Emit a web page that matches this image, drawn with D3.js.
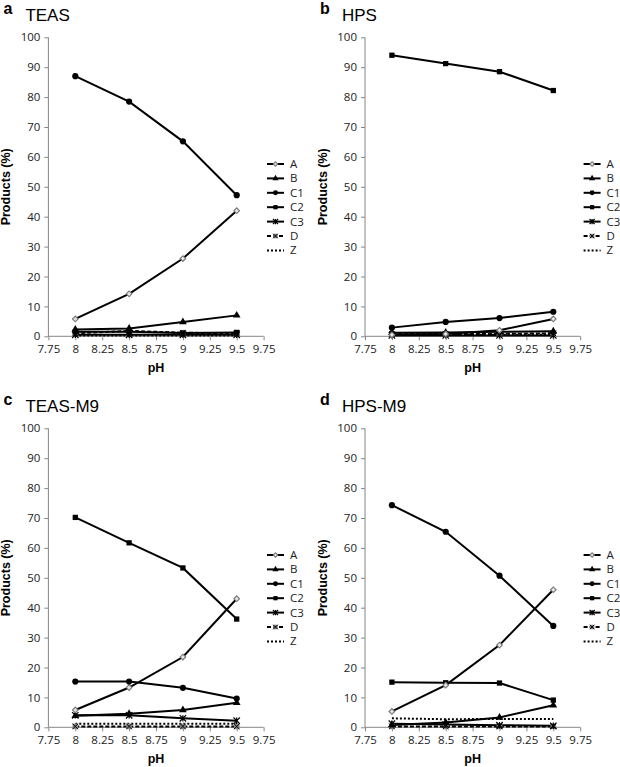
<!DOCTYPE html>
<html><head><meta charset="utf-8">
<script src="https://cdn.jsdelivr.net/npm/d3@7"></script>
<style>body{margin:0;background:#fff}svg{display:block}</style>
</head><body>
<svg id="c" width="620" height="767"></svg>
<script>
// ---- data ----
const pH = [8, 8.5, 9, 9.5];
const xTicks = [7.75, 8, 8.25, 8.5, 8.75, 9, 9.25, 9.5, 9.75];
const yTicks = [0, 10, 20, 30, 40, 50, 60, 70, 80, 90, 100];
const seriesNames = ["A", "B", "C1", "C2", "C3", "D", "Z"];
const panelLetters = ["a", "b", "c", "d"];
const panelTitles = ["TEAS", "HPS", "TEAS-M9", "HPS-M9"];
// values per series (order: A, B, C1, C2, C3, D, Z) at pH 8, 8.5, 9, 9.5
const teasValues = [
  [5.8, 14.2, 26.0, 42.0],
  [2.3, 2.6, 4.8, 7.0],
  [87.0, 78.5, 65.2, 47.2],
  [1.5, 1.5, 1.1, 1.3],
  [0.5, 0.5, 0.5, 0.5],
  [1.0, 1.8, 1.2, 1.0],
  [0.3, 0.3, 0.3, 0.3]
];
const hpsValues = [
  [0.5, 0.8, 2.0, 5.8],
  [1.2, 1.3, 1.5, 1.7],
  [2.9, 4.8, 6.1, 8.2],
  [94.0, 91.2, 88.5, 82.2],
  [0.3, 0.3, 0.3, 0.3],
  [0.8, 0.8, 0.8, 1.0],
  [0.5, 0.5, 0.5, 0.5]
];
const teasM9Values = [
  [5.8, 13.3, 23.5, 43.0],
  [3.9, 4.5, 5.8, 8.2],
  [15.3, 15.3, 13.2, 9.6],
  [70.2, 61.7, 53.3, 36.2],
  [4.0, 4.0, 3.0, 2.2],
  [0.3, 0.3, 0.3, 0.3],
  [1.2, 1.2, 1.2, 1.2]
];
const hpsM9Values = [
  [5.3, 14.1, 27.5, 46.0],
  [0.8, 1.6, 3.3, 7.4],
  [74.3, 65.4, 50.7, 33.9],
  [15.1, 14.9, 14.8, 9.1],
  [1.2, 0.9, 0.7, 0.5],
  [0.3, 0.3, 0.3, 0.3],
  [3.0, 2.7, 2.8, 2.8]
];
const panelValues = [teasValues, hpsValues, teasM9Values, hpsM9Values];

// ---- layout ----
const origins = [[48.4, 37.3], [365, 37.3], [48.4, 428.3], [365, 428.3]];
const plotW = 215.2, plotH = 299;
const axisColor = "#868686";
const tickFont = "'Open Sans', 'Liberation Sans', sans-serif";

const svg = d3.select("#c");

function drawMarker(g, name, x, y, k = 1) {
  if (name === "A") {
    g.append("path").attr("d", d3.symbol(d3.symbolSquare, 16 * k * k)()).attr("transform", `translate(${x},${y}) rotate(45)`)
      .attr("fill", "#e6e6e6").attr("stroke", "#777").attr("stroke-width", 1.1);
  } else if (name === "B") {
    g.append("path").attr("d", d3.symbol(d3.symbolTriangle, 26 * k * k)()).attr("transform", `translate(${x},${y})`).attr("fill", "#000");
  } else if (name === "C1") {
    g.append("path").attr("d", d3.symbol(d3.symbolCircle, 30 * k * k)()).attr("transform", `translate(${x},${y})`).attr("fill", "#000");
  } else if (name === "C2") {
    g.append("path").attr("d", d3.symbol(d3.symbolSquare, 28 * k * k)()).attr("transform", `translate(${x},${y})`).attr("fill", "#000");
  } else if (name === "C3") {
    const s = 3.2 * k;
    g.append("path").attr("d", `M${x-s},${y-s}L${x+s},${y+s}M${x-s},${y+s}L${x+s},${y-s}M${x},${y-s}L${x},${y+s}`)
      .attr("stroke", "#000").attr("stroke-width", 1.2).attr("fill", "none");
  } else if (name === "D") {
    const s = 2.8 * k;
    g.append("rect").attr("x", x - s).attr("y", y - s).attr("width", 2 * s).attr("height", 2 * s).attr("fill", "#888");
    g.append("path").attr("d", `M${x-s},${y-s}L${x+s},${y+s}M${x-s},${y+s}L${x+s},${y-s}`)
      .attr("stroke", "#000").attr("stroke-width", 1).attr("fill", "none");
  }
}

function lineStyle(sel, name) {
  sel.attr("stroke", "#000").attr("stroke-width", 2).attr("fill", "none");
  if (name === "D") sel.attr("stroke-dasharray", "4,2");
  if (name === "Z") sel.attr("stroke-dasharray", "2,2");
}

panelValues.forEach((vals, pi) => {
  const [ox, oy] = origins[pi];
  const g = svg.append("g").attr("transform", `translate(${ox},${oy})`);
  const x = d3.scaleLinear().domain([7.75, 9.75]).range([0, plotW]);
  const y = d3.scaleLinear().domain([0, 100]).range([plotH, 0]);

  // axes
  const yAxis = g.append("g").call(d3.axisLeft(y).tickValues(yTicks).tickSize(4).tickPadding(4).tickFormat(d => d));
  const xAxis = g.append("g").attr("transform", `translate(0,${plotH})`)
    .call(d3.axisBottom(x).tickValues(xTicks).tickSize(4).tickPadding(5).tickFormat(d => String(d)));
  [yAxis, xAxis].forEach(a => {
    a.select(".domain").attr("stroke", axisColor).attr("stroke-width", 1);
    a.selectAll(".tick line").attr("stroke", axisColor);
    a.selectAll("text").attr("fill", "#222").style("font-family", tickFont).style("font-size", "11.5px");
  });
  xAxis.selectAll(".domain").attr("d", `M0,0H${plotW}`);
  yAxis.selectAll(".domain").attr("d", `M0,0V${plotH}`);

  // series lines and markers
  const line = d3.line().x((d, i) => x(pH[i])).y(d => y(d));
  const order = [6, 5, 4, 3, 1, 0, 2];
  order.forEach(si => {
    const name = seriesNames[si];
    const path = g.append("path").attr("d", line(vals[si]));
    lineStyle(path, name);
  });
  order.forEach(si => {
    const name = seriesNames[si];
    vals[si].forEach((v, i) => drawMarker(g, name, x(pH[i]), y(v)));
  });

  // legend
  const lg = g.append("g").attr("transform", `translate(${218.6},${126.7})`);
  seriesNames.forEach((name, i) => {
    const yy = i * 14.4;
    const p = lg.append("path").attr("d", `M0,${yy}H17`);
    lineStyle(p, name);
    drawMarker(lg, name, 8.5, yy, 0.8);
    lg.append("text").attr("x", 23).attr("y", yy + 4).text(name)
      .style("font-family", tickFont).style("font-size", "11.5px").attr("fill", "#222");
  });

  // axis titles
  g.append("text").attr("transform", `translate(${-38},${plotH / 2}) rotate(-90)`)
    .attr("text-anchor", "middle").text("Products (%)")
    .style("font-family", "'Liberation Sans', Arial, sans-serif").style("font-size", "12.5px").style("font-weight", "bold");
  g.append("text").attr("x", plotW / 2).attr("y", plotH + 36).attr("text-anchor", "middle").text("pH")
    .style("font-family", "'Liberation Sans', Arial, sans-serif").style("font-size", "12.5px").style("font-weight", "bold");

  // panel letter + title
  g.append("text").attr("x", -45).attr("y", -23).text(panelLetters[pi])
    .style("font-family", "'Liberation Sans', Arial, sans-serif").style("font-size", "16px").style("font-weight", "bold");
  g.append("text").attr("x", -23).attr("y", -16).text(panelTitles[pi])
    .style("font-family", "'Liberation Sans', Arial, sans-serif").style("font-size", "17px");
});
</script>
</body></html>
